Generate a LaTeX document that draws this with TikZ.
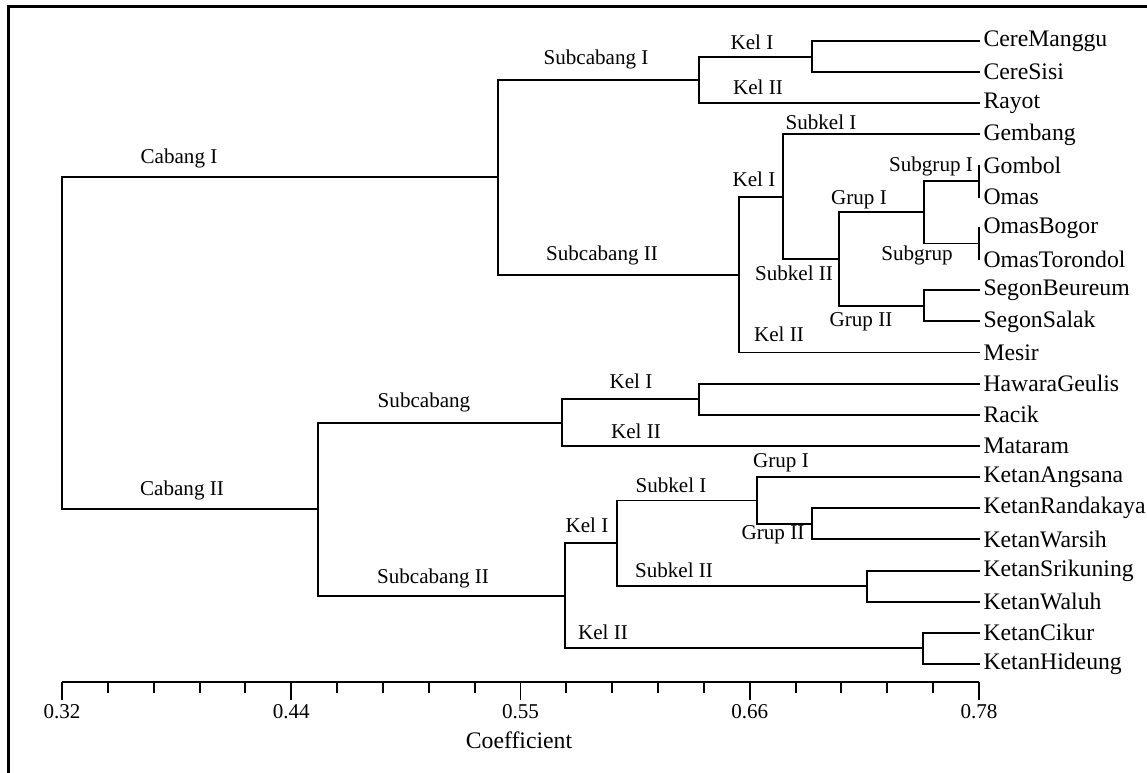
\documentclass[tikz,border=0pt]{standalone}
\usepackage{fontspec}
\setmainfont{Liberation Serif}
\tikzset{
  leaf/.style={anchor=west,inner sep=1.8pt,font=\fontsize{13.5}{15}\selectfont},
  lbl/.style={inner sep=0pt,font=\fontsize{12}{14}\selectfont},
  tree/.style={line width=1.1pt}
}
\begin{document}
\begin{tikzpicture}[x=0.02cm,y=-0.02cm]
                \useasboundingbox (0,0) rectangle (1147,773);
                \draw[line width=1.6pt] (8.5,773) -- (8.5,6.5) -- (1147,6.5);
                %% leaves
                \foreach \name [count=\i from 0] in {CereManggu,CereSisi,Rayot,Gembang,Gombol,Omas,OmasBogor,OmasTorondol,SegonBeureum,SegonSalak,Mesir,HawaraGeulis,Racik,Mataram,KetanAngsana,KetanRandakaya,KetanWarsih,KetanSrikuning,KetanWaluh,KetanCikur,KetanHideung}
                    \node[leaf] (l\i) at (980,{41+\i*31.15}) {\name};
                %% joins
                \coordinate (root) at (62,343.3);
                \coordinate (cabA) at (498,177.3);
                \coordinate (subA) at (699,80);
                \coordinate (kA) at (812,56.6);
                \coordinate (subB) at (739,274.6);
                \coordinate (kB) at (783,196.8);
                \coordinate (skB) at (839,259.1);
                \coordinate (grA) at (924,212.4);
                \coordinate (sgA) at (979,181.2);
                \coordinate (sgB) at (979,243.5);
                \coordinate (grB) at (924,305.8);
                \coordinate (cabB) at (318,509.3);
                \coordinate (subC) at (562,422.6);
                \coordinate (kD) at (699,399.2);
                \coordinate (subD) at (565,595.9);
                \coordinate (kE) at (617,543.3);
                \coordinate (skC) at (757,500.5);
                \coordinate (grC) at (812,523.8);
                \coordinate (skD) at (867,586.1);
                \coordinate (kF) at (923,648.4);
                \foreach \p/\c in {root/cabA,root/cabB,cabA/subA,cabA/subB,subA/kA,subA/l2.west,kA/l0.west,kA/l1.west,
                    subB/kB,subB/l10.west,kB/l3.west,kB/skB,skB/grA,skB/grB,grA/sgA,grA/sgB,sgA/l4.west,sgA/l5.west,
                    sgB/l6.west,sgB/l7.west,grB/l8.west,grB/l9.west,
                    cabB/subC,cabB/subD,subC/kD,subC/l13.west,kD/l11.west,kD/l12.west,subD/kE,subD/kF,kE/skC,kE/skD,
                    skC/l14.west,skC/grC,grC/l15.west,grC/l16.west,skD/l17.west,skD/l18.west,kF/l19.west,kF/l20.west}
                    \draw[tree] (\p) |- (\c);
                %% labels
                \node[lbl] (tCabA) at (179,158) {Cabang I};
                \node[lbl] (tCabB) at (182,490) {Cabang II};
                \node[lbl] (tSubA) at (596,59) {Subcabang I};
                \node[lbl] (tSubB) at (602,255) {Subcabang II};
                \node[lbl] (tKA) at (752,42) {Kel I};
                \node[lbl] (tKAii) at (758,87) {Kel II};
                \node[lbl] (tKB) at (754,179) {Kel I};
                \node[lbl] (tKBii) at (779,334) {Kel II};
                \node[lbl] (tSkA) at (821,122) {Subkel I};
                \node[lbl] (tSkB) at (794,273) {Subkel II};
                \node[lbl] (tGrA) at (859,200) {Grup I};
                \node[lbl] (tGrB) at (861,322) {Grup II};
                \node[lbl] (tSgA) at (931,166) {Subgrup I};
                \node[lbl] (tSgB) at (917,255) {Subgrup};
                \node[lbl] (tSubC) at (424,402) {Subcabang};
                \node[lbl] (tKD) at (631,381) {Kel I};
                \node[lbl] (tKDii) at (636,431) {Kel II};
                \node[lbl] (tSubD) at (433,578) {Subcabang II};
                \node[lbl] (tKE) at (587,525) {Kel I};
                \node[lbl] (tKF) at (603,632) {Kel II};
                \node[lbl] (tSkC) at (671,485) {Subkel I};
                \node[lbl] (tSkD) at (674,570) {Subkel II};
                \node[lbl] (tGrC) at (781,463) {Grup I};
                \node[lbl] (tGrD) at (773,535) {Grup II};
                %% axis
                \draw[tree] (62,682) -- (979,682);
                \foreach \i in {0,...,20}
                    \draw[tree] ({62+\i*45.85},682) -- ++(0,11);
                \foreach \v [count=\k from 0] in {0.32,0.44,0.55,0.66,0.78} {
                    \draw[tree] ({62+\k*229.25},682) -- ++(0,18);
                    \node[lbl] (tick\k) at ({62+\k*229.25},712) {\v};
                }
                \node[lbl,font=\fontsize{13.5}{15}\selectfont] (xlabel) at (519,740) {Coefficient};
            \end{tikzpicture}
\end{document}
